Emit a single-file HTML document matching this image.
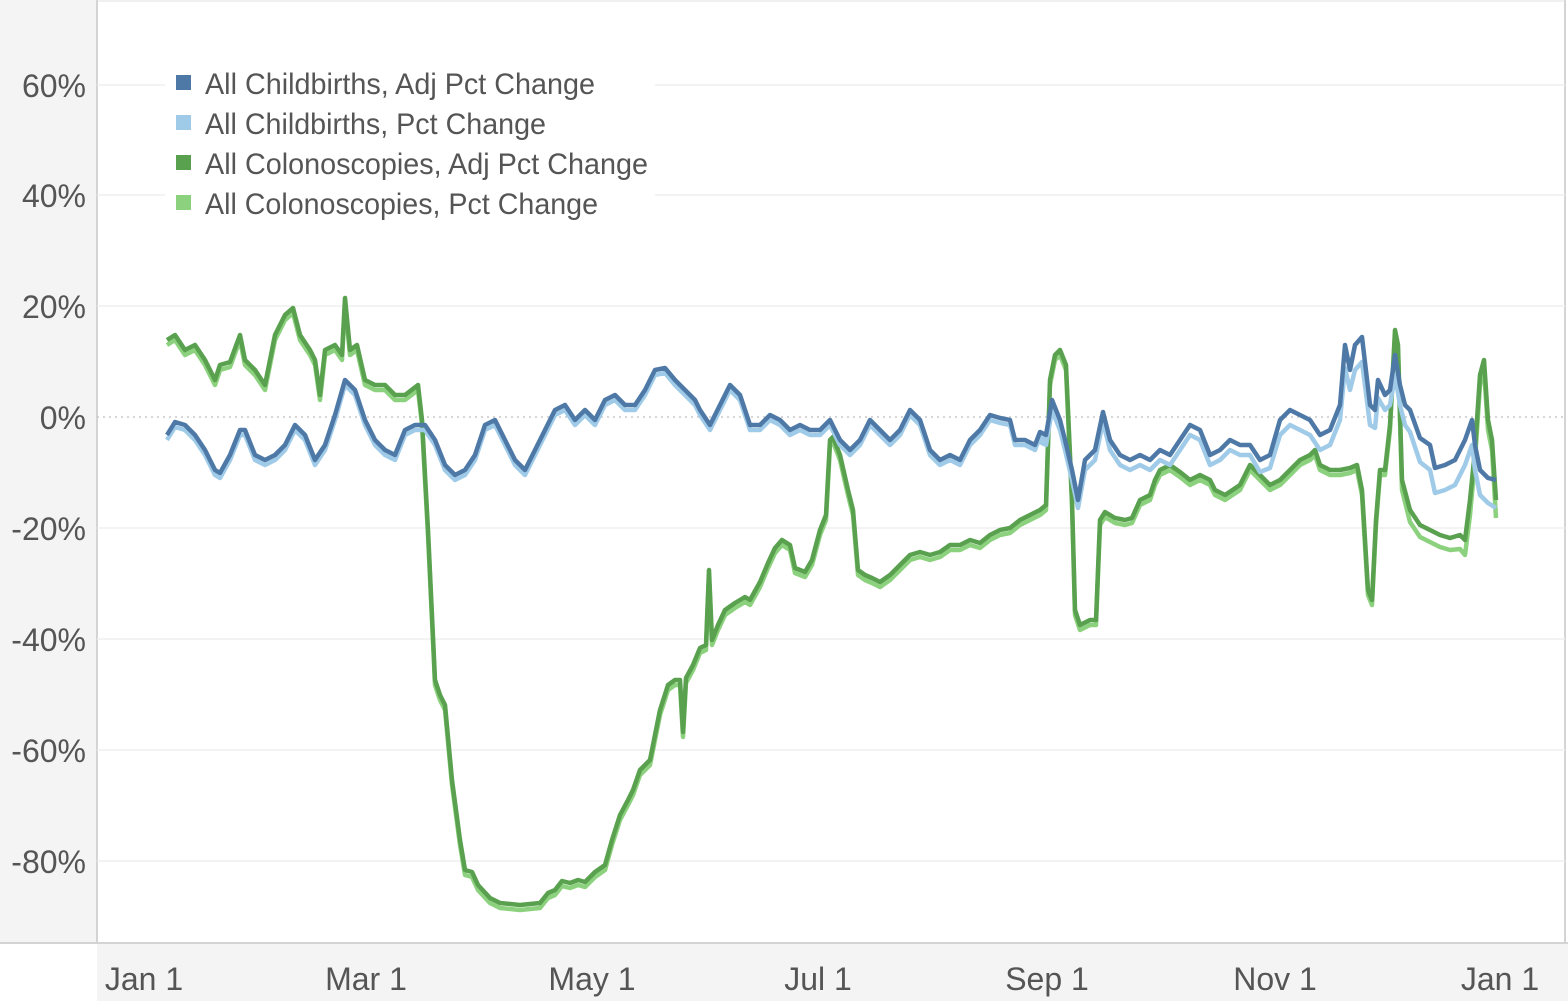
<!DOCTYPE html>
<html><head><meta charset="utf-8"><style>
html,body{margin:0;padding:0;background:#fff;}
svg{display:block;font-family:"Liberation Sans",sans-serif;}
</style></head><body>
<svg width="1568" height="1001" viewBox="0 0 1568 1001">
<rect x="0" y="0" width="97" height="943" fill="#f4f4f4"/>
<rect x="97" y="944" width="1471" height="57" fill="#f4f4f4"/>
<line x1="97" y1="0" x2="97" y2="943" stroke="#d4d4d4" stroke-width="2"/>
<line x1="0" y1="943" x2="1568" y2="943" stroke="#d4d4d4" stroke-width="2"/>
<line x1="1565" y1="0" x2="1565" y2="943" stroke="#d4d4d4" stroke-width="2"/>
<line x1="97" y1="1" x2="1565" y2="1" stroke="#e0e0e0" stroke-width="1"/>
<g stroke="#efefef" stroke-width="1.5">
<line x1="97" y1="85" x2="1565" y2="85"/><line x1="97" y1="195" x2="1565" y2="195"/>
<line x1="97" y1="306" x2="1565" y2="306"/><line x1="97" y1="528" x2="1565" y2="528"/>
<line x1="97" y1="639" x2="1565" y2="639"/><line x1="97" y1="750" x2="1565" y2="750"/>
<line x1="97" y1="861" x2="1565" y2="861"/>
</g>
<line x1="97" y1="417" x2="1565" y2="417" stroke="#c8c8c8" stroke-width="1.5" stroke-dasharray="2,4"/>
<g fill="#555" font-size="32" text-anchor="end">
<text x="86" y="97">60%</text><text x="86" y="207">40%</text><text x="86" y="318">20%</text>
<text x="86" y="429">0%</text><text x="86" y="540">-20%</text><text x="86" y="651">-40%</text>
<text x="86" y="762">-60%</text><text x="86" y="873">-80%</text>
</g>
<g fill="#555" font-size="32" text-anchor="middle">
<text x="144" y="990">Jan 1</text><text x="366" y="990">Mar 1</text><text x="592" y="990">May 1</text>
<text x="818" y="990">Jul 1</text><text x="1047" y="990">Sep 1</text><text x="1275" y="990">Nov 1</text><text x="1500" y="990">Jan 1</text>
</g>
<defs>
<clipPath id="cb"><rect x="0" y="0" width="1045" height="1001"/></clipPath>
<clipPath id="cg"><rect x="0" y="0" width="1400" height="1001"/></clipPath>
<polyline id="g" points="167,340 175,335 185,350 195,345 205,360 215,380 220,365 230,362 240,335 245,360 255,370 265,385 275,335 285,315 293,308 300,335 310,350 315,360 320,395 325,350 335,345 342,355 345,298 350,350 357,345 365,380 375,385 385,385 395,395 405,395 418,385 422,420 428,530 435,680 440,695 445,705 452,780 460,840 465,870 472,872 478,885 490,898 500,903 520,905 540,903 548,893 555,890 562,881 570,883 578,880 585,882 595,872 605,865 612,840 620,815 628,800 633,790 640,770 650,760 655,735 660,710 668,685 675,680 680,680 683,732 686,678 693,665 700,648 706,645 709,570 712,640 718,625 725,610 735,603 745,597 750,600 760,582 768,563 775,548 782,540 790,545 795,568 805,572 812,560 820,530 826,515 830,440 833,437 840,455 848,490 853,510 858,570 865,575 872,578 880,582 890,575 900,565 910,555 920,552 930,555 940,552 950,545 960,545 970,540 980,543 990,535 1000,530 1010,528 1020,520 1030,515 1040,510 1046,505 1050,380 1055,355 1060,350 1066,365 1072,500 1075,610 1080,625 1090,620 1096,620 1100,520 1105,512 1115,518 1125,520 1132,518 1140,500 1150,495 1155,480 1160,470 1170,465 1180,472 1190,480 1200,475 1210,480 1215,490 1225,495 1240,485 1250,465 1260,475 1270,485 1280,480 1290,470 1300,460 1310,455 1315,450 1320,465 1330,470 1340,470 1350,468 1357,465 1362,490 1368,590 1372,600 1376,520 1380,470 1385,470 1390,425 1395,330 1398,345 1402,480 1410,510 1420,525 1430,530 1440,535 1450,538 1460,535 1465,540 1470,500 1475,450 1480,375 1484,360 1488,420 1492,440 1496,500"/>
<polyline id="b" points="167,435 175,422 185,425 195,435 205,450 215,470 220,473 230,455 240,430 245,430 255,455 265,460 275,455 285,445 295,425 305,435 315,460 325,445 335,415 345,380 355,390 365,420 375,440 385,450 395,455 405,430 415,425 425,425 435,440 445,465 455,475 465,470 475,455 485,425 495,420 505,440 515,460 525,470 535,450 545,430 555,410 565,405 575,420 585,410 595,420 605,400 615,395 625,405 635,405 645,390 655,370 665,368 675,380 685,390 695,400 700,410 710,425 720,405 730,385 740,395 750,425 760,425 770,415 780,420 790,430 800,425 810,430 820,430 830,420 840,440 850,450 860,440 870,420 880,430 890,440 900,430 910,410 920,420 930,450 940,460 950,455 960,460 970,440 980,430 990,415 1000,418 1010,420 1015,440 1025,440 1035,445 1040,432 1046,435 1052,400 1060,420 1065,440 1072,470 1078,500 1085,460 1095,450 1103,412 1110,440 1120,455 1130,460 1140,455 1150,460 1160,450 1170,455 1180,440 1190,425 1200,430 1210,455 1220,450 1230,440 1240,445 1250,445 1260,460 1270,455 1280,420 1290,410 1300,415 1310,420 1320,435 1330,430 1340,405 1345,345 1350,370 1355,345 1362,337 1370,405 1375,410 1378,380 1385,395 1390,390 1395,355 1400,385 1405,405 1410,410 1420,438 1430,445 1435,468 1445,465 1455,460 1465,440 1472,420 1475,445 1480,470 1488,478 1496,480"/>
</defs>
<g fill="none" stroke-width="4.5" stroke-linejoin="round">
<g clip-path="url(#cg)"><use href="#g" stroke="#8cd17d" transform="translate(0,5)"/></g>
<polyline stroke="#8cd17d" points="1395,335 1398,350 1402,490 1410,522 1420,537 1430,542 1440,547 1450,550 1460,549 1465,555 1470,515 1475,460 1480,385 1484,370 1488,430 1492,450 1496,518"/>
<use href="#g" stroke="#59a14f"/>
<g clip-path="url(#cb)"><use href="#b" stroke="#a0cbe8" transform="translate(0,5)"/></g>
<polyline stroke="#a0cbe8" points="1040,442 1046,445 1052,410 1060,430 1065,450 1072,480 1078,508 1085,470 1095,460 1103,422 1110,450 1120,465 1130,470 1140,465 1150,470 1160,460 1170,465 1180,450 1190,435 1200,440 1210,465 1220,460 1230,450 1240,455 1250,455 1260,472 1270,468 1280,435 1290,425 1300,430 1310,435 1320,450 1330,445 1340,420 1345,368 1350,390 1355,370 1362,362 1370,425 1375,428 1378,398 1385,410 1390,405 1395,375 1400,405 1405,425 1410,432 1420,462 1430,470 1435,493 1445,490 1455,485 1465,465 1472,445 1475,470 1480,495 1488,503 1496,508"/>
<use href="#b" stroke="#4e79a7"/>
</g>
<rect x="165" y="62" width="490" height="163" fill="#fff"/>
<rect x="176" y="75" width="15" height="15" fill="#4e79a7"/>
<rect x="176" y="115" width="15" height="15" fill="#a0cbe8"/>
<rect x="176" y="155" width="15" height="15" fill="#59a14f"/>
<rect x="176" y="195" width="15" height="15" fill="#8cd17d"/>
<g fill="#555" font-size="30">
<text x="205" y="94" textLength="390" lengthAdjust="spacingAndGlyphs">All Childbirths, Adj Pct Change</text>
<text x="205" y="134" textLength="341" lengthAdjust="spacingAndGlyphs">All Childbirths, Pct Change</text>
<text x="205" y="174" textLength="443" lengthAdjust="spacingAndGlyphs">All Colonoscopies, Adj Pct Change</text>
<text x="205" y="214" textLength="393" lengthAdjust="spacingAndGlyphs">All Colonoscopies, Pct Change</text>
</g>
</svg>
</body></html>
